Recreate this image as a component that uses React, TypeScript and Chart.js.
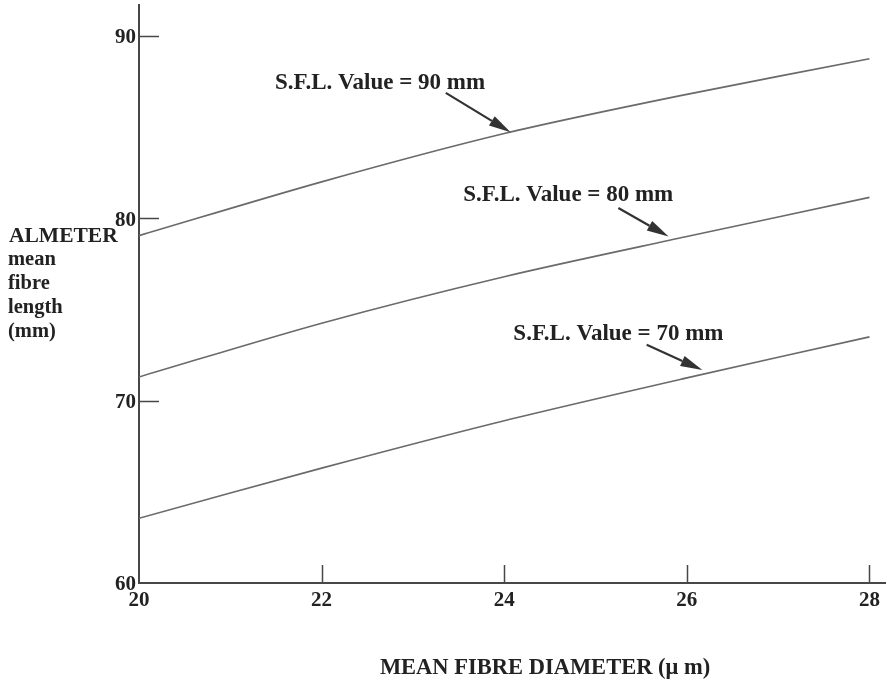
import { useEffect, useRef } from 'react';
import { Chart, registerables } from 'chart.js';

Chart.register(...registerables);

// Mean fibre diameter (µm) at which each curve is sampled
const diameters = [20, 22, 24, 26, 28];

// ALMETER mean fibre length (mm) for each S.F.L. value
const sfl90 = [79.05, 82.0, 84.65, 86.8, 88.75];
const sfl80 = [71.3, 74.25, 76.8, 79.0, 81.15];
const sfl70 = [63.55, 66.3, 68.9, 71.25, 73.5];

const seriesLabels = ['S.F.L. Value = 90 mm', 'S.F.L. Value = 80 mm', 'S.F.L. Value = 70 mm'];

const xTickValues = [20, 22, 24, 26, 28];
const yTickValues = [60, 70, 80, 90];

const xTitle = 'MEAN FIBRE DIAMETER (\u03bc m)';
const yTitleLines = ['ALMETER', 'mean', 'fibre', 'length', '(mm)'];

// Callout placement in data units: label anchor (left, middle), arrow tail, arrow tip
const callouts = [
  { text: seriesLabels[0], label: [21.49, 87.43], tail: [23.36, 86.88], tip: [24.07, 84.72] },
  { text: seriesLabels[1], label: [23.55, 81.28], tail: [25.25, 80.57], tip: [25.8, 79.0] },
  { text: seriesLabels[2], label: [24.1, 73.66], tail: [25.56, 73.06], tip: [26.17, 71.68] },
];

const FONT = "'Liberation Serif', 'Times New Roman', serif";
const AXIS = '#474747';
const CURVE = '#6a6a6a';
const TEXT = '#222222';

const toPoints = (ys: number[]) => diameters.map((d, i) => ({ x: d, y: ys[i] }));

const decorations = {
  id: 'decorations',
  afterDraw(chart: any) {
    const { ctx, scales } = chart;
    const x = scales.x;
    const y = scales.y;
    const x0 = x.getPixelForValue(xTickValues[0]);
    const y0 = y.getPixelForValue(yTickValues[0]);

    ctx.save();

    // inward tick marks
    ctx.strokeStyle = AXIS;
    ctx.lineWidth = 1.5;
    ctx.beginPath();
    yTickValues.slice(1).forEach((v) => {
      const py = Math.round(y.getPixelForValue(v)) + 0.5;
      ctx.moveTo(x0, py);
      ctx.lineTo(x0 + 20, py);
    });
    xTickValues.slice(1).forEach((v) => {
      const px = Math.round(x.getPixelForValue(v)) + 0.5;
      ctx.moveTo(px, y0);
      ctx.lineTo(px, y0 - 18);
    });
    ctx.stroke();

    // callouts with arrows
    ctx.font = `bold 23px ${FONT}`;
    ctx.textAlign = 'left';
    ctx.textBaseline = 'middle';
    callouts.forEach((c) => {
      ctx.fillStyle = TEXT;
      ctx.fillText(c.text, x.getPixelForValue(c.label[0]), y.getPixelForValue(c.label[1]));
      const tx = x.getPixelForValue(c.tail[0]);
      const ty = y.getPixelForValue(c.tail[1]);
      const hx = x.getPixelForValue(c.tip[0]);
      const hy = y.getPixelForValue(c.tip[1]);
      const ang = Math.atan2(hy - ty, hx - tx);
      const headLen = 22;
      const headHalf = 5.5;
      const bx = hx - Math.cos(ang) * headLen;
      const by = hy - Math.sin(ang) * headLen;
      ctx.strokeStyle = '#333333';
      ctx.lineWidth = 2.2;
      ctx.beginPath();
      ctx.moveTo(tx, ty);
      ctx.lineTo(bx, by);
      ctx.stroke();
      ctx.fillStyle = '#333333';
      ctx.beginPath();
      ctx.moveTo(hx, hy);
      ctx.lineTo(bx - Math.sin(ang) * headHalf, by + Math.cos(ang) * headHalf);
      ctx.lineTo(bx + Math.sin(ang) * headHalf, by - Math.cos(ang) * headHalf);
      ctx.closePath();
      ctx.fill();
    });

    // axis titles
    ctx.fillStyle = TEXT;
    ctx.textAlign = 'center';
    ctx.font = `bold 22.5px ${FONT}`;
    ctx.fillText(xTitle, 545, 668);

    ctx.textAlign = 'left';
    yTitleLines.forEach((line, i) => {
      ctx.font = i === 0 ? `bold 21.5px ${FONT}` : `bold 20.5px ${FONT}`;
      ctx.fillText(line, i === 0 ? 9 : 8, 236 + i * 24);
    });

    ctx.restore();
  },
};

export default function App() {
  const canvasRef = useRef<HTMLCanvasElement | null>(null);

  useEffect(() => {
    if (!canvasRef.current) return;
    const lineStyle = {
      borderColor: CURVE,
      borderWidth: 1.6,
      pointRadius: 0,
      fill: false,
      tension: 0.3,
    };
    const chart = new Chart(canvasRef.current, {
      type: 'line',
      data: {
        datasets: [
          { label: seriesLabels[0], data: toPoints(sfl90), ...lineStyle },
          { label: seriesLabels[1], data: toPoints(sfl80), ...lineStyle },
          { label: seriesLabels[2], data: toPoints(sfl70), ...lineStyle },
        ],
      },
      options: {
        animation: false,
        responsive: true,
        maintainAspectRatio: false,
        layout: { padding: { top: 5, right: 2, left: 0, bottom: 0 } },
        plugins: {
          legend: { display: false },
          tooltip: { enabled: false },
        },
        scales: {
          x: {
            type: 'linear',
            min: 20,
            max: 28.17,
            afterBuildTicks: (s: any) => {
              s.ticks = xTickValues.map((v) => ({ value: v }));
            },
            afterFit: (s: any) => {
              s.height = 100;
              s.paddingLeft = 0;
              s.paddingRight = 0;
            },
            grid: { display: false, drawTicks: false },
            border: { display: true, color: AXIS, width: 2 },
            ticks: {
              padding: 5,
              color: TEXT,
              font: { family: FONT, size: 21, weight: 'bold' },
              maxRotation: 0,
            },
          },
          y: {
            type: 'linear',
            min: 60,
            max: 91.7,
            afterBuildTicks: (s: any) => {
              s.ticks = yTickValues.map((v) => ({ value: v }));
            },
            afterFit: (s: any) => {
              s.width = 139;
              s.paddingTop = 0;
              s.paddingBottom = 0;
            },
            grid: { display: false, drawTicks: false },
            border: { display: true, color: AXIS, width: 2 },
            ticks: {
              padding: 3,
              labelOffset: 2,
              color: TEXT,
              font: { family: FONT, size: 21, weight: 'bold' },
            },
          },
        },
      },
      plugins: [decorations],
    });
    return () => chart.destroy();
  }, []);

  return (
    <div style={{ position: 'fixed', left: 0, top: 0, width: 887, height: 683, background: '#ffffff' }}>
      <canvas ref={canvasRef} />
    </div>
  );
}
